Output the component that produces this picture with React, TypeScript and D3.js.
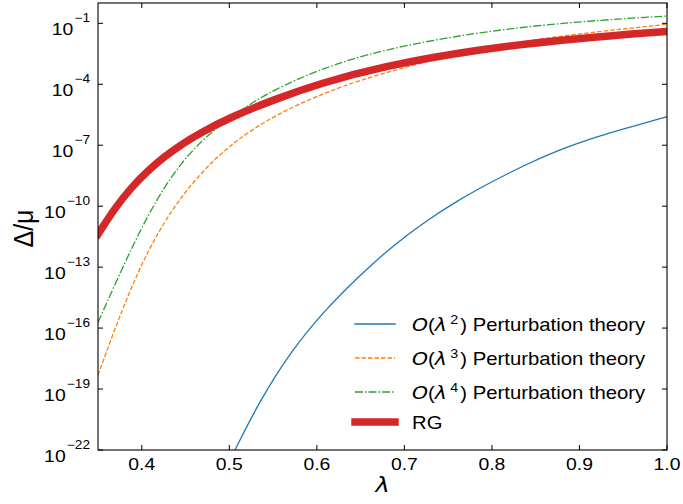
import React from "react";
import * as d3 from "d3";

// values (log10 of Δ/μ)
const pt2Lambda = [0.5065, 0.5331, 0.5713, 0.6093, 0.6474, 0.6855, 0.7235, 0.7616, 0.7997, 0.8378, 0.8758, 0.914, 0.952, 1.0];
const pt2Log = [-22, -19.7, -17.08, -15.11, -13.47, -11.99, -10.76, -9.7, -8.8, -7.97, -7.24, -6.66, -6.17, -5.6];

const pt3Lambda = [0.35, 0.3691, 0.388, 0.4071, 0.4262, 0.4452, 0.4642, 0.4833, 0.5023, 0.5214, 0.5556, 0.6017, 0.6547, 0.7864, 0.9006, 1.0];
const pt3Log = [-18.31, -16.05, -14.0, -12.2, -10.75, -9.55, -8.55, -7.7, -6.98, -6.37, -5.45, -4.55, -3.68, -2.17, -1.5, -1.05];

const pt4Lambda = [0.35, 0.3691, 0.388, 0.4071, 0.4262, 0.4452, 0.4642, 0.4833, 0.5214, 0.5499, 0.6017, 0.6722, 0.7864, 0.9006, 1.0];
const pt4Log = [-15.72, -13.88, -12.1, -10.45, -9.03, -7.88, -6.97, -6.22, -5.02, -4.3, -3.28, -2.31, -1.4, -0.9, -0.64];

const rgLambda = [0.35, 0.3691, 0.388, 0.4071, 0.4262, 0.4452, 0.4642, 0.5023, 0.5556, 0.6017, 0.6722, 0.7864, 0.9006, 1.0];
const rgLog = [-11.38, -10.1, -9.08, -8.25, -7.55, -6.97, -6.45, -5.6, -4.68, -3.99, -3.14, -2.26, -1.72, -1.4];

const xTicks = [0.4, 0.5, 0.6, 0.7, 0.8, 0.9, 1.0];
const yTickExps = [-22, -19, -16, -13, -10, -7, -4, -1];

const legendOrders = ["2", "3", "4"];

const W = 683;
const H = 504;
const left = 98, right = 667, top = 3, bottom = 450;

const font = "'Liberation Sans', Arial, Helvetica, sans-serif";
const mathFont = "'DejaVu Sans', sans-serif";
const SX = 1.14; // the reference text is a bit wider than it is tall

// text drawn with a horizontal stretch around its anchor point
const SText = ({ x, y, anchor = "start", size, children, ...rest }: any) => (
    <g transform={`translate(${x},${y}) scale(${SX},1)`}>
        <text x={0} y={0} textAnchor={anchor} fontSize={size} {...rest}>{children}</text>
    </g>
);

const App = () => {
    const x = d3.scaleLinear().domain([0.35, 1.0]).range([left, right]);
    const y = d3.scaleLog().domain([1e-22, 1]).range([bottom, top]);

    const toPoints = (ls: number[], logs: number[]) =>
        ls.map((l, i) => [l, Math.pow(10, logs[i])] as [number, number]);

    const line = d3.line<[number, number]>()
        .x((d) => x(d[0]))
        .y((d) => y(d[1]))
        .curve(d3.curveBasis);

    const series = [
        { pts: toPoints(pt2Lambda, pt2Log), color: "#1f77b4", width: 1.3, dash: "", cap: "square" },
        { pts: toPoints(pt3Lambda, pt3Log), color: "#ff7f0e", width: 1.3, dash: "4.5,2", cap: "butt" },
        { pts: toPoints(pt4Lambda, pt4Log), color: "#2ca02c", width: 1.3, dash: "8,2,1.5,2", cap: "butt" },
        { pts: toPoints(rgLambda, rgLog), color: "#d62728", width: 7.5, dash: "", cap: "square" },
    ];

    const legendY = [324, 358, 392, 422];

    return (
        <svg width={W} height={H} style={{ position: "absolute", left: 0, top: 0, background: "white" }}
             fontFamily={font}>
            <defs>
                <clipPath id="plot-clip">
                    <rect x={left} y={top} width={right - left} height={bottom - top} />
                </clipPath>
            </defs>

            <g clipPath="url(#plot-clip)">
                {series.map((s, i) => (
                    <path key={i} d={line(s.pts) || ""} fill="none" stroke={s.color}
                          strokeWidth={s.width} strokeDasharray={s.dash || undefined}
                          strokeLinecap={s.cap as any} />
                ))}
            </g>

            {/* ticks, inward on all four sides */}
            {xTicks.map((t) => (
                <g key={"xt" + t}>
                    <line x1={x(t)} x2={x(t)} y1={bottom} y2={bottom - 5} stroke="black" strokeWidth={1} />
                    <line x1={x(t)} x2={x(t)} y1={top} y2={top + 5} stroke="black" strokeWidth={1} />
                    <SText x={x(t)} y={470} anchor="middle" size={17}>{t.toFixed(1)}</SText>
                </g>
            ))}
            {yTickExps.map((e) => {
                const yy = y(Math.pow(10, e));
                return (
                    <g key={"yt" + e}>
                        <line x1={left} x2={left + 5} y1={yy} y2={yy} stroke="black" strokeWidth={1} />
                        <line x1={right} x2={right - 5} y1={yy} y2={yy} stroke="black" strokeWidth={1} />
                        <SText x={90} y={yy + 11.7} anchor="end" size={17}>
                            <tspan>10</tspan>
                            <tspan dx={1} dy={-13} fontSize={12}>{"\u2212" + Math.abs(e)}</tspan>
                        </SText>
                    </g>
                );
            })}

            <rect x={left} y={top} width={right - left} height={bottom - top} fill="none" stroke="black" strokeWidth={1.1} />

            {/* axis labels */}
            <SText x={(left + right) / 2} y={492} anchor="middle" size={21} fontStyle="italic"
                   fontFamily={mathFont}>λ</SText>
            <text transform={`translate(33, ${(top + bottom) / 2 + 2}) rotate(-90) scale(1,${SX})`}
                  textAnchor="middle" fontSize={25}>
                Δ/μ
            </text>

            {/* legend */}
            {series.map((s, i) => (
                <g key={"lg" + i}>
                    <line x1={355} x2={395} y1={legendY[i]} y2={legendY[i]} stroke={s.color}
                          strokeWidth={s.width} strokeDasharray={s.dash || undefined}
                          strokeLinecap={s.cap as any} />
                    {i < 3 ? (
                        <SText x={412} y={legendY[i] + 6.7} size={17.8}>
                            <tspan fontStyle="italic" fontFamily={mathFont}>O</tspan>
                            <tspan>(</tspan>
                            <tspan fontStyle="italic" fontFamily={mathFont}>λ</tspan>
                            <tspan dx={3} dy={-7} fontSize={12.5}>{legendOrders[i]}</tspan>
                            <tspan dx={2} dy={7}>) Perturbation theory</tspan>
                        </SText>
                    ) : (
                        <SText x={412} y={legendY[i] + 6.7} size={17.8}>RG</SText>
                    )}
                </g>
            ))}
        </svg>
    );
};

export default App;
